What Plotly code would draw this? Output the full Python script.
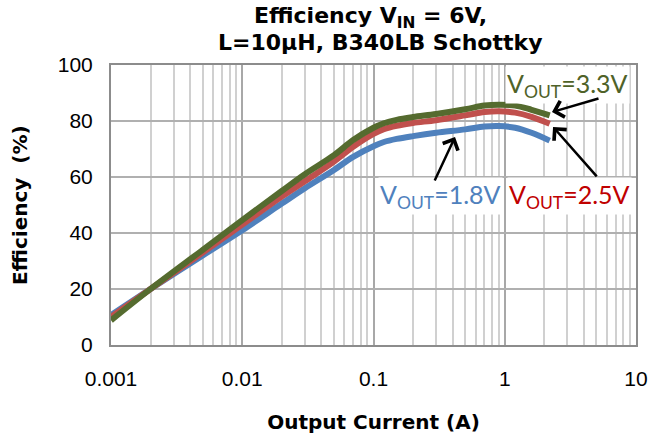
import plotly.graph_objects as go

current = [0.001, 0.002, 0.005, 0.01, 0.02, 0.03, 0.05, 0.07, 0.1, 0.12, 0.15, 0.2, 0.3, 0.5, 0.7, 0.9, 1.2, 1.6, 2.2]
eff_18 = [10.7, 20, 32, 41, 50.5, 56, 62.5, 67.2, 71.0, 72.5, 73.6, 74.6, 75.8, 77, 78, 78.2, 77.6, 75.8, 73]
eff_25 = [10, 20, 33, 43, 53, 58.5, 65.5, 70.8, 75.4, 77.1, 78.3, 79.3, 80.3, 82, 83.2, 83.5, 83, 81.5, 79]
eff_33 = [8.8, 20, 34, 44.6, 55, 61, 67.8, 73.2, 77.6, 79.2, 80.4, 81.4, 82.5, 84.2, 85.5, 85.8, 85.5, 84, 82]

xtick_vals = [0.001, 0.01, 0.1, 1, 10]
xtick_text = ["0.001", "0.01", "0.1", "1", "10"]
ytick_vals = [0, 20, 40, 60, 80, 100]

series = [
    ("V<sub>OUT</sub>=1.8V", eff_18, "#4F81BD"),
    ("V<sub>OUT</sub>=2.5V", eff_25, "#C0504D"),
    ("V<sub>OUT</sub>=3.3V", eff_33, "#556B2F"),
]

fig = go.Figure()
for name, vals, col in series:
    fig.add_trace(go.Scatter(x=current, y=vals, mode="lines", name=name,
                             line=dict(color=col, width=6, shape="spline", smoothing=1.0)))

bold_font = dict(family="DejaVu Sans, sans-serif", size=20, color="black", weight="bold")
title_font = dict(family="DejaVu Sans, sans-serif", size=22, color="black", weight="bold")
tickfont = dict(family="Liberation Sans, Arial, sans-serif", size=21, color="black")
fig.update_layout(
    width=650, height=440,
    margin=dict(l=111, r=14, t=65, b=95),
    paper_bgcolor="white", plot_bgcolor="white",
    showlegend=False,
    xaxis=dict(type="log", range=[-3, 1], tickvals=xtick_vals, ticktext=xtick_text,
               tickfont=tickfont, ticks="", ticklabelstandoff=14, automargin=False,
               showgrid=True, gridcolor="#A8A8A8", gridwidth=2,
               minor=dict(dtick="D1", showgrid=True, gridcolor="#D0D0D0", gridwidth=1.5, ticks=""),
               showline=True, linecolor="#8C8C8C", linewidth=2, mirror=True, zeroline=False,
               title=dict(text="Output Current (A)", standoff=26, font=bold_font)),
    yaxis=dict(range=[0, 100], tickvals=ytick_vals, tickfont=tickfont, ticks="",
               ticklabelstandoff=12, automargin=False,
               showgrid=True, gridcolor="#B0B0B0", gridwidth=2,
               showline=True, linecolor="#8C8C8C", linewidth=2, mirror=True, zeroline=False),
)

# y-axis title placed as a rotated annotation
fig.add_annotation(xref="paper", yref="paper", x=-0.1733, y=0.5, text="Efficiency  (%)",
                   textangle=-90, showarrow=False, font=bold_font,
                   xanchor="center", yanchor="middle")

title_lines = [("Efficiency V<sub>IN</sub> = 6V,", 0.495, 1.171),
               ("L=10µH, B340LB Schottky", 0.514, 1.082)]
for txt, px, py in title_lines:
    fig.add_annotation(xref="paper", yref="paper", x=px, y=py, text=txt,
                       showarrow=False, font=title_font, xanchor="center", yanchor="middle")

lab_font = "Lato, sans-serif"
labels = [
    ("V<sub>OUT</sub>=3.3V", 0.870, 0.930, "#4F6228"),
    ("V<sub>OUT</sub>=1.8V", 0.628, 0.532, "#4F81BD"),
    ("V<sub>OUT</sub>=2.5V", 0.873, 0.532, "#C00000"),
]
for txt, px, py, col in labels:
    fig.add_annotation(xref="paper", yref="paper", x=px, y=py, text=txt, showarrow=False,
                       font=dict(family=lab_font, size=25, color=col),
                       bgcolor="white", borderpad=1, xanchor="center", yanchor="middle")

arrows = [(0.36, 83.2, 48, -14), (0.368, 77.9, 45, 51), (-0.379, 74.3, -21, 45)]
for hx, hy, dx, dy in arrows:
    fig.add_annotation(x=hx, y=hy, xref="x", yref="y", ax=dx, ay=dy, text="",
                       showarrow=True, arrowhead=4, arrowsize=1.3, arrowwidth=2.5,
                       arrowcolor="black")

fig.write_html("out.html")
